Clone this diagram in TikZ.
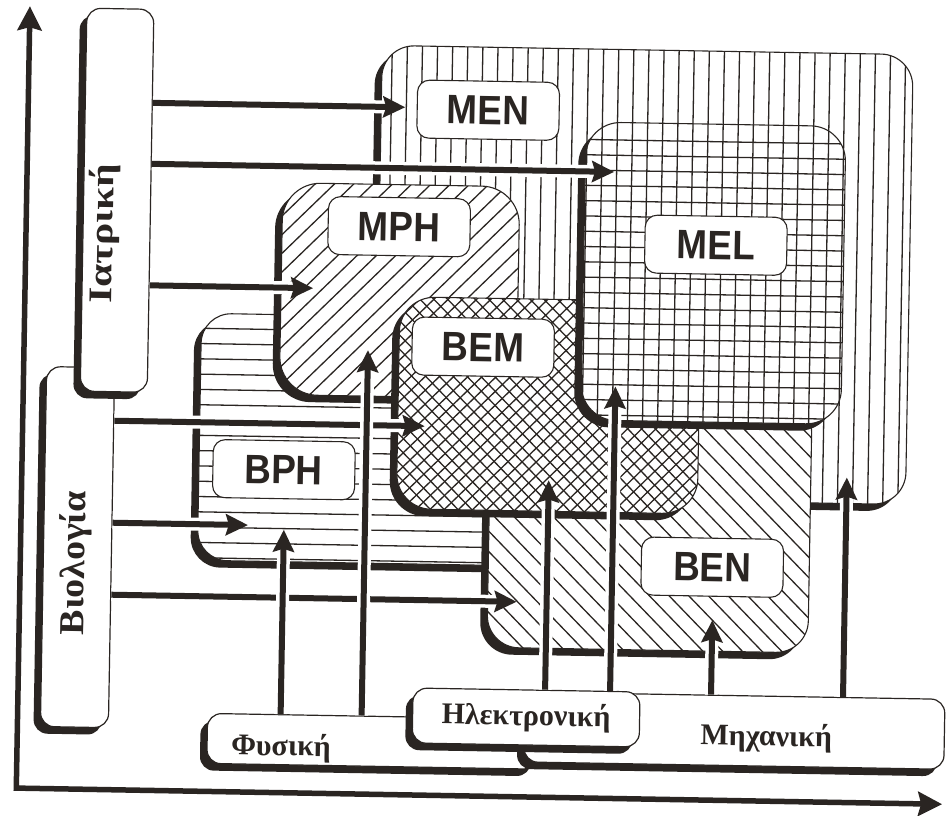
\documentclass[tikz,border=0pt]{standalone}
\usepackage{fontspec}
\setmainfont{Liberation Serif}
\setsansfont{Liberation Sans}
\usetikzlibrary{arrows.meta,calc,shadows}
\definecolor{ink}{RGB}{42,37,34}
\newcommand\lbl[1]{\scalebox{0.9}[1]{#1}}
\tikzset{
  hatch/.style={draw=ink, line width=1.3pt},
  regedge/.style={draw=ink, line width=1.1pt},
  lab/.style={draw=ink, line width=1.1pt, fill=white, rounded corners=12pt,
    minimum width=142pt, minimum height=58pt, inner sep=0pt, text=ink,
    font=\sffamily\bfseries\fontsize{41}{41}\selectfont},
  dombox/.style={draw=ink, line width=1.2pt, fill=white, rounded corners=14pt, inner sep=0pt,
    drop shadow={shadow xshift=-7pt, shadow yshift=-7pt, opacity=1, fill=ink}},
  domtext/.style={text=ink, inner sep=0pt, font=\bfseries\fontsize{30}{30}\selectfont},
  bigtext/.style={text=ink, inner sep=0pt},
  arr/.style={draw=ink, line width=6pt, -{Stealth[length=22pt,width=21pt,inset=3pt]},
    preaction={draw=white, line width=13pt, arrows=-, shorten >=20pt}},
  axline/.style={draw=ink, line width=5.5pt, line join=miter,
    {Stealth[length=24pt,width=24pt,inset=3pt]}-{Stealth[length=24pt,width=24pt,inset=3pt]}},
}
\begin{document}
\begin{tikzpicture}[x=1pt,y=-1pt]
\useasboundingbox (0,0) rectangle (946,816);
\fill[white] (0,0) rectangle (946,816);
\begin{scope}[rotate around={-1:(473,408)}, transform shape]
% axes
\coordinate (o) at (23,796);
\coordinate (ytip) at (23,14);
\coordinate (xtip) at (949,796);
\draw[axline] (ytip) -- (o) -- (xtip);

% domain boxes left
\node[dombox, minimum width=68pt, minimum height=360pt] (bio) at (80,554) {};
\node[bigtext, rotate=90] (tbio) at (78,570) {\scalebox{1.08}[1]{\bfseries\fontsize{35}{35}\selectfont Βιολογία}};
\node[dombox, minimum width=67pt, minimum height=383pt] (iat) at (113.5,206.5) {};
\node[bigtext, rotate=90] (tiat) at (101,240) {\scalebox{1.25}[1]{\bfseries\fontsize{33}{33}\selectfont Ιατρική}};

% MEN region
\fill[ink, rounded corners=32pt] (369,54) rectangle (900,504);
\fill[white, rounded corners=32pt] (376,47) rectangle (907,497);
\begin{scope}
\clip[rounded corners=32pt] (376,47) rectangle (907,497);
\foreach \k in {0,...,34} \draw[hatch] ({386+15.1*\k},40) -- ({386+15.1*\k},505);
\end{scope}
\draw[regedge, rounded corners=32pt] (376,47) rectangle (907,497);
\node[lab] (lmen) at (483,110) {\lbl{MEN}};

% BPH region
\fill[ink, rounded corners=30pt] (193,325) rectangle (523,572);
\fill[white, rounded corners=30pt] (200,318) rectangle (530,565);
\begin{scope}
\clip[rounded corners=30pt] (200,318) rectangle (530,565);
\foreach \k in {0,...,15} \draw[hatch] (195,{333+15.3*\k}) -- (535,{333+15.3*\k});
\end{scope}
\draw[regedge, rounded corners=30pt] (200,318) rectangle (530,565);
\node[lab] (lbph) at (285,473) {\lbl{BPH}};

% BEN region
\fill[ink, rounded corners=32pt] (484,402) rectangle (805,654);
\fill[white, rounded corners=32pt] (491,395) rectangle (812,647);
\begin{scope}
\clip[rounded corners=32pt] (491,395) rectangle (812,647);
\foreach \c in {-160,-140,...,420} \draw[hatch] ({\c+390},390) -- ({\c+652},652);
\end{scope}
\draw[regedge, rounded corners=32pt] (491,395) rectangle (812,647);
\node[lab] (lben) at (715,563) {\lbl{BEN}};

% MPH region
\fill[ink, rounded corners=38pt] (272,193) rectangle (509,405);
\fill[white, rounded corners=38pt] (279,186) rectangle (516,398);
\begin{scope}
\clip[rounded corners=38pt] (279,186) rectangle (516,398);
\foreach \c in {460,479,...,920} \draw[hatch] ({\c-402},402) -- ({\c-182},182);
\end{scope}
\draw[regedge, rounded corners=38pt] (279,186) rectangle (516,398);
\node[lab] (lmph) at (396,228) {\lbl{MPH}};

% BEM region
\fill[ink, rounded corners=35pt] (391,305) rectangle (692,517);
\fill[white, rounded corners=35pt] (398,298) rectangle (699,510);
\begin{scope}
\clip[rounded corners=35pt] (398,298) rectangle (699,510);
\foreach \c in {690,704,...,1212} \draw[hatch] ({\c-514},514) -- ({\c-294},294);
\foreach \c in {-120,-106,...,406} \draw[hatch] ({\c+294},294) -- ({\c+514},514);
\end{scope}
\draw[regedge, rounded corners=35pt] (398,298) rectangle (699,510);
\node[lab] (lbem) at (482,347) {\lbl{BEM}};

% MEL region
\fill[ink, rounded corners=35pt] (574,127) rectangle (834,425);
\fill[white, rounded corners=35pt] (581,120) rectangle (841,418);
\begin{scope}
\clip[rounded corners=35pt] (581,120) rectangle (841,418);
\foreach \k in {13,...,30} \draw[hatch] ({386+15.1*\k},115) -- ({386+15.1*\k},423);
\foreach \k in {0,...,18} \draw[hatch] (576,{137.5+15.3*\k}) -- (846,{137.5+15.3*\k});
\end{scope}
\draw[regedge, rounded corners=35pt] (581,120) rectangle (841,418);
\node[lab] (lmel) at (713,241) {\lbl{MEL}};

% bottom boxes
\node[dombox, minimum width=331pt, minimum height=50pt] (fys) at (378.5,743) {};
\node[dombox, minimum width=420pt, minimum height=70pt] (mech) at (740,726) {};
\node[dombox, domtext, minimum width=227pt, minimum height=55pt] (ele) at (531.5,716.5) {Ηλεκτρονική};
\node[domtext] (tfys) at (287,751) {Φυσική};
\node[domtext] (tmech) at (772,733) {Μηχανική};

% arrow tips
\coordinate (t1) at (400,108.5);
\coordinate (t2) at (610,169.5);
\coordinate (t3) at (311,291);
\coordinate (t4) at (425,427);
\coordinate (t5) at (250,529);
\coordinate (t6) at (520,601);
\coordinate (v1) at (286,533);
\coordinate (v2) at (367,352);
\coordinate (v3) at (550,479);
\coordinate (v4) at (615,384);
\coordinate (v5) at (716,616);
\coordinate (v6) at (848,471);

% horizontal arrows
\draw[arr] ($(iat.north east)!(t1)!(iat.south east)$) -- (t1);
\draw[arr] ($(iat.north east)!(t2)!(iat.south east)$) -- (t2);
\draw[arr] ($(iat.north east)!(t3)!(iat.south east)$) -- (t3);
\draw[arr] ($(bio.north east)!(t4)!(bio.south east)$) -- (t4);
\draw[arr] ($(bio.north east)!(t5)!(bio.south east)$) -- (t5);
\draw[arr] ($(bio.north east)!(t6)!(bio.south east)$) -- (t6);
% vertical arrows
\draw[arr] ($(fys.north west)!(v1)!(fys.north east)$) -- (v1);
\draw[arr] ($(fys.north west)!(v2)!(fys.north east)$) -- (v2);
\draw[arr] ($(ele.north west)!(v3)!(ele.north east)$) -- (v3);
\draw[arr] ($(ele.north west)!(v4)!(ele.north east)$) -- (v4);
\draw[arr] ($(mech.north west)!(v5)!(mech.north east)$) -- (v5);
\draw[arr] ($(mech.north west)!(v6)!(mech.north east)$) -- (v6);
\end{scope}
\end{tikzpicture}
\end{document}
